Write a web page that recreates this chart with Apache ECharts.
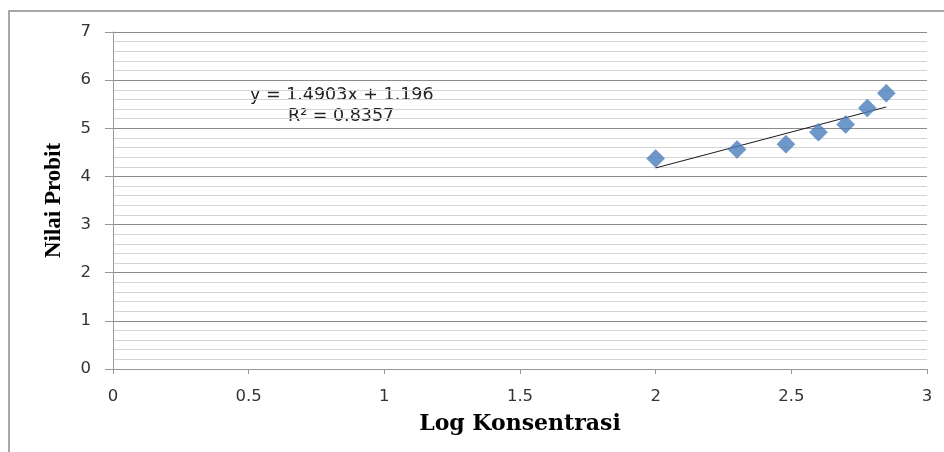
<!DOCTYPE html>
<html>
<head>
<meta charset="utf-8">
<script src="https://cdn.jsdelivr.net/npm/echarts@6/dist/echarts.min.js"></script>
<style>
  html, body { margin: 0; padding: 0; background: #fff; }
  #main { width: 944px; height: 452px; }
</style>
</head>
<body>
<div id="main"></div>
<script>
// data
var logKonsentrasi = [2.0, 2.3, 2.48, 2.6, 2.7, 2.78, 2.85];
var nilaiProbit = [4.37, 4.56, 4.67, 4.92, 5.08, 5.42, 5.73];
var slope = 1.4903;
var intercept = 1.196;
var rSquared = '0.8357';
var xTicks = [0, 0.5, 1, 1.5, 2, 2.5, 3];
var yTicks = [0, 1, 2, 3, 4, 5, 6, 7];

var chart = echarts.init(document.getElementById('main'));

var points = logKonsentrasi.map(function (x, i) { return [x, nilaiProbit[i]]; });
var xMin = Math.min.apply(null, logKonsentrasi);
var xMax = Math.max.apply(null, logKonsentrasi);
var trend = [[xMin, slope * xMin + intercept], [xMax, slope * xMax + intercept]];

var tickFont = { fontFamily: 'DejaVu Sans', fontSize: 16.5, color: '#333' };

var option = {
    animation: false,
    backgroundColor: '#fff',
    grid: { left: 113, right: 17, top: 32, bottom: 83 },
    graphic: [
        {
            type: 'rect',
            shape: { x: 9, y: 11, width: 2000, height: 1000 },
            style: { fill: 'none', stroke: '#8a8a8a', lineWidth: 1.5 },
            silent: true
        },
        {
            type: 'text', left: 250, top: 86,
            style: { text: 'y = 1.4903x + 1.196', font: '17.5px "DejaVu Sans"', fill: '#222' }
        },
        {
            type: 'text', left: 288, top: 107,
            style: { text: 'R² = ' + rSquared, font: '17.5px "DejaVu Sans"', fill: '#222' }
        }
    ],
    xAxis: {
        type: 'value',
        min: 0, max: 3, interval: 0.5,
        name: 'Log Konsentrasi',
        nameLocation: 'middle',
        nameGap: 44,
        nameTextStyle: { fontFamily: 'DejaVu Serif', fontWeight: 'bold', fontSize: 22, color: '#000' },
        axisLine: { lineStyle: { color: '#999' } },
        axisTick: { show: true, length: 5, lineStyle: { color: '#999' } },
        axisLabel: Object.assign({ margin: 19, formatter: function (v) { return xTicks.indexOf(v) >= 0 ? String(v) : ''; } }, tickFont),
        splitLine: { show: false }
    },
    yAxis: {
        type: 'value',
        min: 0, max: 7, interval: 1,
        name: 'Nilai Probit',
        nameLocation: 'middle',
        nameGap: 47,
        nameTextStyle: { fontFamily: 'Liberation Serif', fontWeight: 'bold', fontSize: 23, color: '#000' },
        axisLine: { show: true, lineStyle: { color: '#999' } },
        axisTick: { show: true, length: 8, lineStyle: { color: '#999' } },
        axisLabel: Object.assign({ margin: 22, formatter: function (v) { return yTicks.indexOf(v) >= 0 ? String(v) : ''; } }, tickFont),
        splitLine: { show: true, lineStyle: { color: '#8c8c8c', width: 1 } },
        minorTick: { show: false, splitNumber: 5 },
        minorSplitLine: { show: true, lineStyle: { color: '#d4d4d4', width: 1 } }
    },
    series: [
        {
            name: 'Trendline',
            type: 'line',
            data: trend,
            symbol: 'none',
            lineStyle: { color: '#1a1a1a', width: 1 },
            z: 2
        },
        {
            name: 'Nilai Probit',
            type: 'scatter',
            data: points,
            symbol: 'diamond',
            symbolSize: [18, 18],
            itemStyle: { color: '#4a7ebb', borderColor: '#4071ad', borderWidth: 0.5 },
            z: 3
        }
    ]
};

chart.setOption(option);
</script>
</body>
</html>
